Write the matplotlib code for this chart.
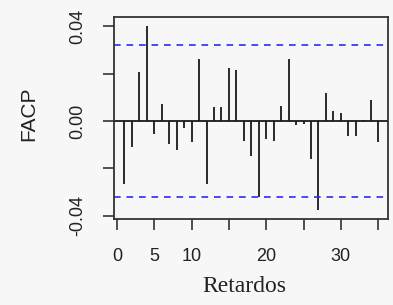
import matplotlib
matplotlib.use("Agg")
import matplotlib.pyplot as plt
import numpy as np

lags = list(range(1, 36))
pacf = [-0.0266, -0.0109, 0.0206, 0.0400, -0.0056, 0.0072, -0.0097, -0.0123, -0.0031, -0.0090,
        0.0262, -0.0266, 0.0060, 0.0060, 0.0223, 0.0216, -0.0085, -0.0148, -0.0320, -0.0077,
        -0.0085, 0.0065, 0.0262, -0.0018, -0.0013, -0.0162, -0.0378, 0.0118, 0.0041, 0.0033,
        -0.0065, -0.0065, 0.0004, 0.0087, -0.0090]
ci = 0.032
xticks = [0, 5, 10, 15, 20, 25, 30, 35]
xticklabels = ["0", "5", "10", "", "20", "", "30", ""]
yticks = [-0.04, -0.02, 0.00, 0.02, 0.04]
yticklabels = ["-0.04", "", "0.00", "", "0.04"]

bg = "#f7f7f7"
fig = plt.figure(figsize=(3.93, 3.05), dpi=100, facecolor=bg)
ax = fig.add_axes([114.3/393, 1-219/305, (388.3-114.3)/393, (219-17.3)/305], facecolor=bg)

ax.vlines(lags, 0, pacf, color="#1a1a1a", lw=1.3)
ax.axhline(0, color="#1a1a1a", lw=1.3)
ax.axhline(ci, color="#2b2bf0", lw=1.2, ls=(0, (4, 3.5)))
ax.axhline(-ci, color="#2b2bf0", lw=1.2, ls=(0, (4, 3.5)))

ax.set_xlim(-0.36, 36.36)
ax.set_ylim(-0.0414, 0.0438)
ax.set_xticks(xticks)
ax.set_xticklabels(xticklabels, fontsize=13, family="Liberation Sans", color="#222222")
ax.set_yticks(yticks)
ax.set_yticklabels(yticklabels, fontsize=13, family="Liberation Sans", rotation=90, va="center",
                   color="#222222")
ax.tick_params(axis="x", length=8, width=1.2, color="#333333", pad=13)
ax.tick_params(axis="y", length=8, width=1.2, color="#333333", pad=12)
for s in ax.spines.values():
    s.set_color("#333333")
    s.set_linewidth(1.3)

fig.text(244/393, 1-287/305, "Retardos", fontsize=17, family="Liberation Serif",
         ha="center", va="center", color="#222222")
fig.text(29/393, 1-114/305, "FACP", fontsize=15, family="Liberation Sans",
         ha="center", va="center", rotation=90, color="#222222")

fig.savefig("out.png", dpi=100, facecolor=bg)
